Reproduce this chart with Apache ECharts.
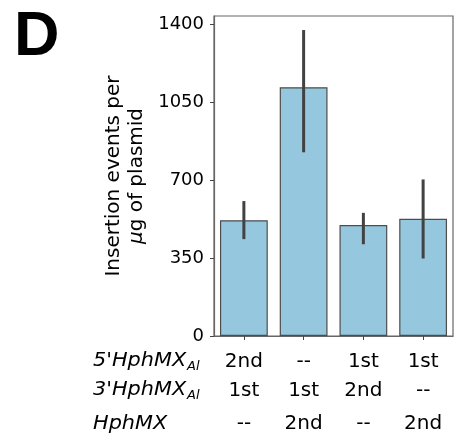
<!DOCTYPE html>
<html>
<head>
<meta charset="utf-8">
<script src="https://cdn.jsdelivr.net/npm/echarts@6/dist/echarts.min.js"></script>
<style>
html, body { margin: 0; padding: 0; background: #fff; }
#chart { width: 463px; height: 434px; }
</style>
</head>
<body>
<div id="chart"></div>
<script>
// row values under each bar (5'HphMX_Al, 3'HphMX_Al, HphMX)
var row5 = ['2nd', '--', '1st', '1st'];
var row3 = ['1st', '1st', '2nd', '--'];
var rowH = ['--', '2nd', '--', '2nd'];
var categories = ['A', 'B', 'C', 'D'];
var means = [520, 1117, 498, 526];
var lower = [435, 825, 412, 348];
var upper = [606, 1374, 553, 703];
var yTicks = [0, 350, 700, 1050, 1400];

var font = 'DejaVu Sans';
var chart = echarts.init(document.getElementById('chart'));

var errData = categories.map(function (c, i) { return [i, lower[i], upper[i]]; });

// italic row label with optional subscript
function rowLabel(text, sub, cy) {
    var els = [{
        type: 'text', x: 93, y: cy, scaleX: 1.04,
        style: { text: text, fontFamily: font, fontStyle: 'italic', fontSize: 20, fill: '#000', verticalAlign: 'middle' }
    }];
    if (sub) {
        els.push({
            type: 'text', x: 187, y: cy + 5.5,
            style: { text: sub, fontFamily: font, fontStyle: 'italic', fontSize: 13, fill: '#000', verticalAlign: 'middle' }
        });
    }
    return els;
}

var option = {
    animation: false,
    grid: {
        left: 214, right: 10, top: 16, bottom: 98,
        show: true, borderColor: '#666', borderWidth: 1.2
    },
    xAxis: {
        type: 'category',
        data: categories,
        axisLine: { show: true, lineStyle: { color: '#666', width: 1.2 } },
        axisTick: { show: true, alignWithLabel: true, length: 4, lineStyle: { color: '#444' } },
        axisLabel: {
            margin: 12,
            interval: 0,
            fontFamily: font,
            fontSize: 20,
            color: '#000',
            formatter: function (v, i) {
                return '{a|' + row5[i] + '}\n{b|' + row3[i] + '}\n{c|' + rowH[i] + '}';
            },
            rich: {
                a: { fontFamily: font, fontSize: 20, lineHeight: 28, color: '#000' },
                b: { fontFamily: font, fontSize: 20, lineHeight: 30, color: '#000' },
                c: { fontFamily: font, fontSize: 20, lineHeight: 36, color: '#000' }
            }
        }
    },
    yAxis: {
        type: 'value',
        min: 0, max: 1437, interval: 350,
        name: '{n|Insertion events per}\n{i|\u00b5}{n|g of plasmid}',
        nameLocation: 'middle',
        nameRotate: 90,
        nameGap: 49,
        nameTextStyle: {
            rich: {
                n: { fontFamily: font, fontSize: 20, lineHeight: 23, color: '#000' },
                i: { fontFamily: font, fontSize: 20, lineHeight: 23, fontStyle: 'italic', color: '#000' }
            }
        },
        splitLine: { show: false },
        axisLine: { show: true, lineStyle: { color: '#666', width: 1.2 } },
        axisTick: { show: true, length: 4, customValues: yTicks, lineStyle: { color: '#444' } },
        axisLabel: {
            customValues: yTicks,
            margin: 10,
            fontFamily: font, fontSize: 18, color: '#000',
            formatter: function (v) { return String(v); }
        }
    },
    series: [
        {
            type: 'bar',
            data: means,
            barWidth: '80%',
            itemStyle: { color: '#95c8de', borderColor: '#4d4d4d', borderWidth: 1.2 }
        },
        {
            type: 'custom',
            data: errData,
            z: 5,
            renderItem: function (params, api) {
                var x = api.value(0);
                var lo = api.coord([x, api.value(1)]);
                var hi = api.coord([x, api.value(2)]);
                return {
                    type: 'line',
                    shape: { x1: lo[0], y1: lo[1], x2: hi[0], y2: hi[1] },
                    style: { stroke: '#424242', lineWidth: 3 }
                };
            }
        }
    ],
    graphic: [
        { type: 'text', left: 14, top: 6, style: { text: 'D', fontFamily: 'Liberation Sans', fontWeight: 'bold', fontSize: 63, fill: '#000' } }
    ].concat(rowLabel("5'HphMX", 'Al', 361), rowLabel("3'HphMX", 'Al', 390), rowLabel('HphMX', '', 424))
};
chart.setOption(option);
</script>
</body>
</html>
